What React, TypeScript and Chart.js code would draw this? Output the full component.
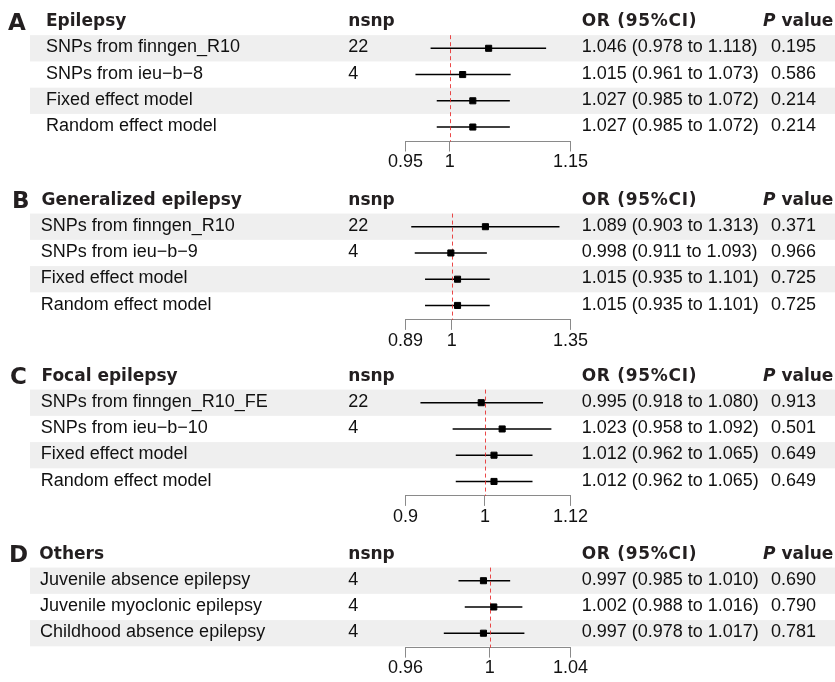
import React, { useEffect, useRef } from "react";
import { Chart, registerables } from "chart.js";

Chart.register(...registerables);

// ---------------- DATA ----------------
// Panel A
const aLetter = "A";
const aTitle = "Epilepsy";
const aLabels = ["SNPs from finngen_R10", "SNPs from ieu\u2212b\u22128", "Fixed effect model", "Random effect model"];
const aNsnp = ["22", "4", "", ""];
const aOR = [1.046, 1.015, 1.027, 1.027];
const aLower = [0.978, 0.961, 0.985, 0.985];
const aUpper = [1.118, 1.073, 1.072, 1.072];
const aP = ["0.195", "0.586", "0.214", "0.214"];
const aTicks = [0.95, 1, 1.15];
const aTickLabels = ["0.95", "1", "1.15"];

// Panel B
const bLetter = "B";
const bTitle = "Generalized epilepsy";
const bLabels = ["SNPs from finngen_R10", "SNPs from ieu\u2212b\u22129", "Fixed effect model", "Random effect model"];
const bNsnp = ["22", "4", "", ""];
const bOR = [1.089, 0.998, 1.015, 1.015];
const bLower = [0.903, 0.911, 0.935, 0.935];
const bUpper = [1.313, 1.093, 1.101, 1.101];
const bP = ["0.371", "0.966", "0.725", "0.725"];
const bTicks = [0.89, 1, 1.35];
const bTickLabels = ["0.89", "1", "1.35"];

// Panel C
const cLetter = "C";
const cTitle = "Focal epilepsy";
const cLabels = ["SNPs from finngen_R10_FE", "SNPs from ieu\u2212b\u221210", "Fixed effect model", "Random effect model"];
const cNsnp = ["22", "4", "", ""];
const cOR = [0.995, 1.023, 1.012, 1.012];
const cLower = [0.918, 0.958, 0.962, 0.962];
const cUpper = [1.08, 1.092, 1.065, 1.065];
const cP = ["0.913", "0.501", "0.649", "0.649"];
const cTicks = [0.9, 1, 1.12];
const cTickLabels = ["0.9", "1", "1.12"];

// Panel D
const dLetter = "D";
const dTitle = "Others";
const dLabels = ["Juvenile absence epilepsy", "Juvenile myoclonic epilepsy", "Childhood absence epilepsy"];
const dNsnp = ["4", "4", "4"];
const dOR = [0.997, 1.002, 0.997];
const dLower = [0.985, 0.988, 0.978];
const dUpper = [1.01, 1.016, 1.017];
const dP = ["0.690", "0.790", "0.781"];
const dTicks = [0.96, 1, 1.04];
const dTickLabels = ["0.96", "1", "1.04"];

const headerNsnp = "nsnp";
const headerOR = "OR (95%CI)";
const headerP = "P";
const headerPRest = " value";

// ---------------- LAYOUT ----------------
const W = 835;
const ROW_H = 26.25;
const AXIS_LEFT = 405.5;
const AXIS_RIGHT = 570.5;
const AXIS_H = 34;
const STRIPE_X = 30;
const NSNP_X = 348.3;
const OR_X = 581.7;
const P_X = 771;
const PHEAD_X = 763;

const TITLE_FONT = 'bold 17px "DejaVu Sans", Verdana, sans-serif';
const TITLE_ITALIC = 'italic bold 17px "DejaVu Sans", Verdana, sans-serif';
const LETTER_FONT = 'bold 23px "DejaVu Sans", sans-serif';
const BODY_FONT = '18px "Liberation Sans", Arial, sans-serif';

type PanelProps = {
  letter: string;
  title: string;
  labels: string[];
  nsnp: string[];
  or: number[];
  lower: number[];
  upper: number[];
  p: string[];
  ticks: number[];
  tickLabels: string[];
  top: number;
  height: number;
  row1: number;
  letterX: number;
  titleX: number;
  textX: number;
};

function fmt(v: number) {
  return v.toFixed(3);
}

function ForestPanel(props: PanelProps) {
  const ref = useRef<HTMLCanvasElement>(null);
  useEffect(() => {
    const { letter, title, labels, nsnp, or, lower, upper, p, ticks, tickLabels, height, row1, letterX, titleX, textX } = props;
    const n = labels.length;
    const padTop = row1 - 0.5 * ROW_H;
    const chartBottom = row1 + (n - 1 + 0.55) * ROW_H;
    const padBottom = height - AXIS_H - chartBottom;
    const rows = labels.map((_, i) => i + 1);

    const forestPlugin = {
      id: "forest",
      beforeDraw(chart: any) {
        const ctx = chart.ctx;
        const y = chart.scales.y;
        ctx.save();
        ctx.fillStyle = "#efefef";
        rows.forEach((r, i) => {
          if (i % 2 === 0) {
            const t = y.getPixelForValue(r - 0.5);
            const b = y.getPixelForValue(r + 0.5);
            ctx.fillRect(STRIPE_X, t, W - STRIPE_X, b - t);
          }
        });
        ctx.restore();
      },
      beforeDatasetsDraw(chart: any) {
        const ctx = chart.ctx;
        const x = chart.scales.x;
        const y = chart.scales.y;
        ctx.save();
        ctx.strokeStyle = "#000";
        ctx.lineWidth = 1.5;
        rows.forEach((r, i) => {
          const py = y.getPixelForValue(r);
          ctx.beginPath();
          ctx.moveTo(x.getPixelForValue(lower[i]), py);
          ctx.lineTo(x.getPixelForValue(upper[i]), py);
          ctx.stroke();
        });
        const px = Math.round(x.getPixelForValue(1)) + 0.5;
        ctx.strokeStyle = "rgba(232,40,40,0.85)";
        ctx.lineWidth = 1;
        ctx.setLineDash([4, 3]);
        ctx.beginPath();
        ctx.moveTo(px, chart.chartArea.top);
        ctx.lineTo(px, chart.chartArea.bottom);
        ctx.stroke();
        ctx.restore();
      },
      afterDraw(chart: any) {
        const ctx = chart.ctx;
        const y = chart.scales.y;
        ctx.save();
        ctx.textBaseline = "middle";
        ctx.textAlign = "left";
        const y0 = y.getPixelForValue(0);
        ctx.fillStyle = "#231f20";
        ctx.font = LETTER_FONT;
        ctx.fillText(letter, letterX, y0 + 1.5);
        ctx.font = TITLE_FONT;
        ctx.fillText(title, titleX, y0);
        ctx.fillText(headerNsnp, NSNP_X, y0);
        (ctx as any).letterSpacing = "0.7px";
        ctx.fillText(headerOR, OR_X, y0);
        (ctx as any).letterSpacing = "0px";
        ctx.font = TITLE_ITALIC;
        ctx.fillText(headerP, PHEAD_X, y0);
        const pw = ctx.measureText(headerP).width;
        ctx.font = TITLE_FONT;
        ctx.fillText(headerPRest, PHEAD_X + pw, y0);

        ctx.font = BODY_FONT;
        ctx.fillStyle = "#111";
        rows.forEach((r, i) => {
          const py = y.getPixelForValue(r) - 0.8;
          ctx.fillText(labels[i], textX, py);
          if (nsnp[i]) ctx.fillText(nsnp[i], NSNP_X, py);
          ctx.fillText(`${fmt(or[i])} (${fmt(lower[i])} to ${fmt(upper[i])})`, OR_X, py);
          ctx.fillText(p[i], P_X, py);
        });
        ctx.restore();
      },
    };

    const chart = new Chart(ref.current as HTMLCanvasElement, {
      type: "scatter",
      data: {
        datasets: [
          {
            data: or.map((v, i) => ({ x: v, y: i + 1 })),
            pointStyle: "rect",
            pointRadius: 4.3,
            pointBackgroundColor: "#000",
            pointBorderColor: "#000",
            pointBorderWidth: 1,
            showLine: false,
          } as any,
        ],
      },
      options: {
        responsive: false,
        animation: false,
        events: [],
        layout: { padding: { left: AXIS_LEFT, right: W - AXIS_RIGHT, top: padTop, bottom: padBottom } },
        plugins: { legend: { display: false }, tooltip: { enabled: false } },
        scales: {
          x: {
            type: "logarithmic",
            position: "bottom",
            bounds: "data",
            min: ticks[0],
            max: ticks[ticks.length - 1],
            afterBuildTicks: (s: any) => {
              s.ticks = ticks.map((v) => ({ value: v }));
            },
            afterFit: (s: any) => {
              s.height = AXIS_H;
            },
            ticks: {
              autoSkip: false,
              maxRotation: 0,
              minRotation: 0,
              padding: 0,
              color: "#111",
              font: { family: '"Liberation Sans", Arial, sans-serif', size: 18 },
              callback: (_v: any, i: number) => tickLabels[i],
            },
            grid: { display: true, drawOnChartArea: false, drawTicks: true, tickLength: 10, color: "#8a8a8a", lineWidth: 1 },
            border: { display: true, color: "#8a8a8a", width: 1 },
          } as any,
          y: { type: "linear", display: false, min: 0.5, max: n + 0.55, reverse: true },
        },
      },
      plugins: [forestPlugin],
    });
    return () => chart.destroy();
  }, []);
  return (
    <canvas
      ref={ref}
      width={W}
      height={props.height}
      style={{ position: "absolute", left: 0, top: props.top, width: W, height: props.height }}
    />
  );
}

export default function App() {
  return (
    <div style={{ position: "absolute", left: 0, top: 0, width: W, height: 682, background: "#fff", overflow: "hidden" }}>
      <ForestPanel letter={aLetter} title={aTitle} labels={aLabels} nsnp={aNsnp} or={aOR} lower={aLower} upper={aUpper} p={aP} ticks={aTicks} tickLabels={aTickLabels} top={0} height={178} row1={48.3} letterX={8} titleX={46} textX={46} />
      <ForestPanel letter={bLetter} title={bTitle} labels={bLabels} nsnp={bNsnp} or={bOR} lower={bLower} upper={bUpper} p={bP} ticks={bTicks} tickLabels={bTickLabels} top={178} height={176} row1={48.7} letterX={12} titleX={41.5} textX={40.7} />
      <ForestPanel letter={cLetter} title={cTitle} labels={cLabels} nsnp={cNsnp} or={cOR} lower={cLower} upper={cUpper} p={cP} ticks={cTicks} tickLabels={cTickLabels} top={354} height={178} row1={48.7} letterX={10} titleX={41.5} textX={40.7} />
      <ForestPanel letter={dLetter} title={dTitle} labels={dLabels} nsnp={dNsnp} or={dOR} lower={dLower} upper={dUpper} p={dP} ticks={dTicks} tickLabels={dTickLabels} top={532} height={150} row1={48.7} letterX={9} titleX={39.3} textX={40} />
    </div>
  );
}
